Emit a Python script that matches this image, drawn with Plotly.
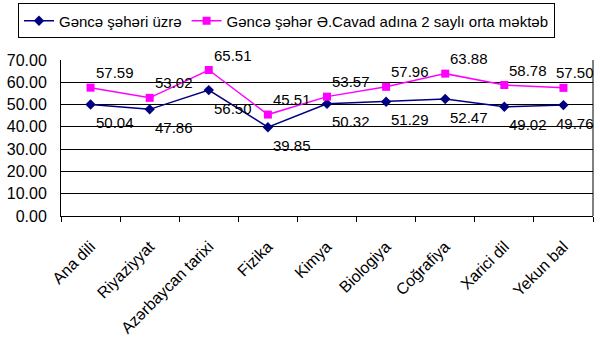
import plotly.graph_objects as go

categories = ["Ana dili", "Riyaziyyat", "Azərbaycan tarixi", "Fizika", "Kimya",
              "Biologiya", "Coğrafiya", "Xarici dil", "Yekun bal"]
city = [50.04, 47.86, 56.50, 39.85, 50.32, 51.29, 52.47, 49.02, 49.76]
school = [57.59, 53.02, 65.51, 45.51, 53.57, 57.96, 63.88, 58.78, 57.50]
name_city = "Gəncə şəhəri üzrə"
name_school = "Gəncə şəhər Ə.Cavad adına 2 saylı orta məktəb"
y_ticks = [0, 10, 20, 30, 40, 50, 60, 70]

font = "Liberation Sans, Arial, sans-serif"
fig = go.Figure()
fig.add_trace(go.Scatter(x=categories, y=city, name=name_city, mode="lines+markers",
                         line=dict(color="#000080", width=1.5),
                         marker=dict(symbol="diamond", size=8, color="#000080")))
fig.add_trace(go.Scatter(x=categories, y=school, name=name_school, mode="lines+markers",
                         line=dict(color="#FF00FF", width=1.5),
                         marker=dict(symbol="square", size=8, color="#FF00FF")))

last = len(categories) - 1
for i, (c, v) in enumerate(zip(categories, city)):
    fig.add_annotation(x=c, y=v, text=f"{v:.2f}", showarrow=False, xanchor="left",
                       yanchor="middle", xshift=-9 if i == last else 3, yshift=-18,
                       font=dict(family=font, size=15, color="black"))
for i, (c, v) in enumerate(zip(categories, school)):
    fig.add_annotation(x=c, y=v, text=f"{v:.2f}", showarrow=False, xanchor="left",
                       yanchor="middle", xshift=-9 if i == last else 3, yshift=15,
                       font=dict(family=font, size=15, color="black"))

fig.update_layout(
    width=600, height=345,
    margin=dict(l=57, r=7, t=60, b=129),
    paper_bgcolor="white", plot_bgcolor="white",
    font=dict(family=font, size=15, color="black"),
    showlegend=True,
    legend=dict(orientation="h", xref="container", yref="container", x=0.03, y=0.99,
                xanchor="left", yanchor="top", bordercolor="black", borderwidth=1,
                font=dict(family=font, size=15), tracegroupgap=0),
)
fig.update_xaxes(showline=True, linecolor="black", linewidth=1, mirror=False,
                 ticks="outside", tickson="boundaries", ticklen=5, tickcolor="black",
                 tickangle=-45, showgrid=False, tickfont=dict(size=16),
                 ticklabelstandoff=14,
                 range=[-0.5, len(categories) - 0.5])
fig.update_yaxes(range=[0, 70], tickvals=y_ticks, tickformat=".2f",
                 showgrid=True, gridcolor="black", gridwidth=1,
                 showline=True, linecolor="black", linewidth=1, mirror=False,
                 ticks="", zeroline=False, tickfont=dict(size=16),
                 ticklabelstandoff=10)
# right border of plot area
fig.add_shape(type="line", xref="paper", yref="paper", x0=1, x1=1, y0=0, y1=1,
              line=dict(color="black", width=1))
fig.write_html("out.html")
